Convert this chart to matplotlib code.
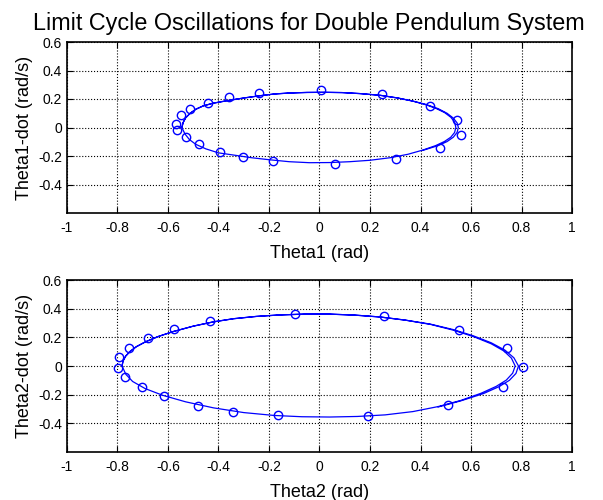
import matplotlib
matplotlib.use('Agg')
from matplotlib import pyplot as plt
import numpy as np

plt.rcParams['font.family'] = ['Liberation Sans', 'DejaVu Sans']

# pendulum 1 - limit cycle trace (goes round ~1.5 times)
th1_line = [-0.545, -0.540, -0.530, -0.512, -0.490, -0.46, -0.42, -0.36, -0.30, -0.24, -0.18, -0.12, -0.05, 0.02,
            0.09, 0.16, 0.24, 0.31, 0.37, 0.42, 0.46, 0.495, 0.52, 0.535, 0.54,
            0.535, 0.52, 0.495, 0.46, 0.41, 0.35, 0.28, 0.20, 0.12, 0.04, -0.04, -0.12, -0.20, -0.27, -0.33,
            -0.40, -0.45, -0.49, -0.515, -0.533, -0.545,
            -0.540, -0.530, -0.512, -0.490, -0.46, -0.42, -0.36, -0.30, -0.24, -0.18, -0.12, -0.05, 0.02,
            0.09, 0.16, 0.24, 0.31, 0.37, 0.42, 0.47, 0.505, 0.530, 0.545, 0.550,
            0.545, 0.53, 0.505, 0.47, 0.41]
th1d_line = [0.0, 0.035, 0.068, 0.100, 0.128, 0.152, 0.171, 0.190, 0.207, 0.222, 0.235, 0.242, 0.246, 0.247,
             0.245, 0.238, 0.226, 0.207, 0.185, 0.160, 0.135, 0.105, 0.072, 0.038, 0.0,
             -0.035, -0.068, -0.098, -0.127, -0.158, -0.188, -0.212, -0.230, -0.240, -0.246, -0.247, -0.240,
             -0.226, -0.212, -0.196, -0.178, -0.150, -0.118, -0.085, -0.045, 0.0,
             0.035, 0.068, 0.100, 0.128, 0.152, 0.171, 0.190, 0.207, 0.222, 0.235, 0.242, 0.246, 0.247,
             0.245, 0.238, 0.226, 0.207, 0.185, 0.163, 0.132, 0.100, 0.066, 0.032, 0.0,
             -0.034, -0.068, -0.099, -0.127, -0.160]
# pendulum 1 - sampled points
th1_pts = [-0.570, -0.564, -0.550, -0.527, -0.512, -0.476, -0.442, -0.396, -0.357, -0.303,
           -0.241, -0.186, 0.004, 0.062, 0.247, 0.301, 0.436, 0.477, 0.546, 0.560]
th1d_pts = [0.027, -0.016, 0.086, -0.066, 0.131, -0.119, 0.171, -0.170, 0.212, -0.204,
            0.241, -0.238, 0.265, -0.255, 0.232, -0.222, 0.154, -0.144, 0.052, -0.052]

# pendulum 2 - limit cycle trace
th2_line = [-0.782, -0.778, -0.768, -0.750, -0.725, -0.69, -0.64, -0.58, -0.50, -0.42, -0.34, -0.25, -0.16, -0.06,
            0.04, 0.14, 0.24, 0.34, 0.44, 0.53, 0.61, 0.68, 0.73, 0.76, 0.775,
            0.765, 0.74, 0.70, 0.64, 0.56, 0.47, 0.37, 0.26, 0.15, 0.04, -0.07, -0.18, -0.30, -0.42, -0.53,
            -0.62, -0.69, -0.74, -0.767, -0.782,
            -0.778, -0.768, -0.750, -0.725, -0.69, -0.64, -0.58, -0.50, -0.42, -0.34, -0.25, -0.16, -0.06,
            0.04, 0.14, 0.24, 0.34, 0.44, 0.53, 0.61, 0.68, 0.735, 0.77, 0.788,
            0.778, 0.752, 0.71, 0.65, 0.56, 0.47]
th2d_line = [0.0, 0.035, 0.068, 0.102, 0.135, 0.168, 0.205, 0.240, 0.278, 0.308, 0.330, 0.346, 0.356, 0.362,
             0.362, 0.355, 0.342, 0.320, 0.290, 0.250, 0.205, 0.155, 0.105, 0.055, 0.0,
             -0.050, -0.098, -0.142, -0.190, -0.240, -0.283, -0.318, -0.341, -0.352, -0.356, -0.354, -0.345,
             -0.325, -0.292, -0.250, -0.205, -0.158, -0.108, -0.058, 0.0,
             0.035, 0.068, 0.102, 0.135, 0.168, 0.205, 0.240, 0.278, 0.308, 0.330, 0.346, 0.356, 0.362,
             0.362, 0.355, 0.342, 0.320, 0.292, 0.254, 0.210, 0.162, 0.110, 0.057, 0.0,
             -0.052, -0.100, -0.145, -0.192, -0.243, -0.286]
# pendulum 2 - sampled points
th2_pts = [-0.098, 0.256, 0.551, 0.744, 0.804, 0.727, 0.508, 0.193, -0.163, -0.344,
           -0.481, -0.615, -0.701, -0.771, -0.797, -0.793, -0.756, -0.678, -0.578, -0.434]
th2d_pts = [0.365, 0.346, 0.253, 0.126, -0.007, -0.147, -0.274, -0.351, -0.342, -0.318,
            -0.276, -0.208, -0.147, -0.080, -0.016, 0.061, 0.126, 0.194, 0.257, 0.316]

fig = plt.figure(figsize=(6.03, 5.0), dpi=100)
ax1 = fig.add_axes([0.1111, 0.574, 0.8375, 0.342])
ax2 = fig.add_axes([0.1111, 0.096, 0.8375, 0.344])

def style(ax, xlab, ylab):
    ax.set_xlim(-1, 1)
    ax.set_ylim(-0.6, 0.6)
    ax.set_xticks(np.arange(-1, 1.01, 0.2))
    ax.set_xticklabels(['-1', '-0.8', '-0.6', '-0.4', '-0.2', '0', '0.2', '0.4', '0.6', '0.8', '1'])
    ax.set_yticks([-0.4, -0.2, 0, 0.2, 0.4, 0.6])
    ax.set_yticklabels(['-0.4', '-0.2', '0', '0.2', '0.4', '0.6'])
    ax.grid(True, color='black', linestyle=':', linewidth=0.8)
    ax.tick_params(direction='in', top=True, right=True, labelsize=10, length=4)
    ax.tick_params(axis='x', pad=6)
    for s in ax.spines.values():
        s.set_linewidth(1.2)
    ax.set_xlabel(xlab, fontsize=13, labelpad=7)
    ax.set_ylabel(ylab, fontsize=13)

ax1.plot(th1_line, th1d_line, color='blue', linewidth=0.9)
ax1.plot(th1_pts, th1d_pts, 'o', color='blue', markerfacecolor='none', markersize=6)
style(ax1, 'Theta1 (rad)', 'Theta1-dot (rad/s)')
ax1.set_title('Limit Cycle Oscillations for Double Pendulum System', fontsize=16.8, x=0.478, pad=9)

ax2.plot(th2_line, th2d_line, color='blue', linewidth=0.9)
ax2.plot(th2_pts, th2d_pts, 'o', color='blue', markerfacecolor='none', markersize=6)
style(ax2, 'Theta2 (rad)', 'Theta2-dot (rad/s)')

plt.savefig('out.png', dpi=100)
